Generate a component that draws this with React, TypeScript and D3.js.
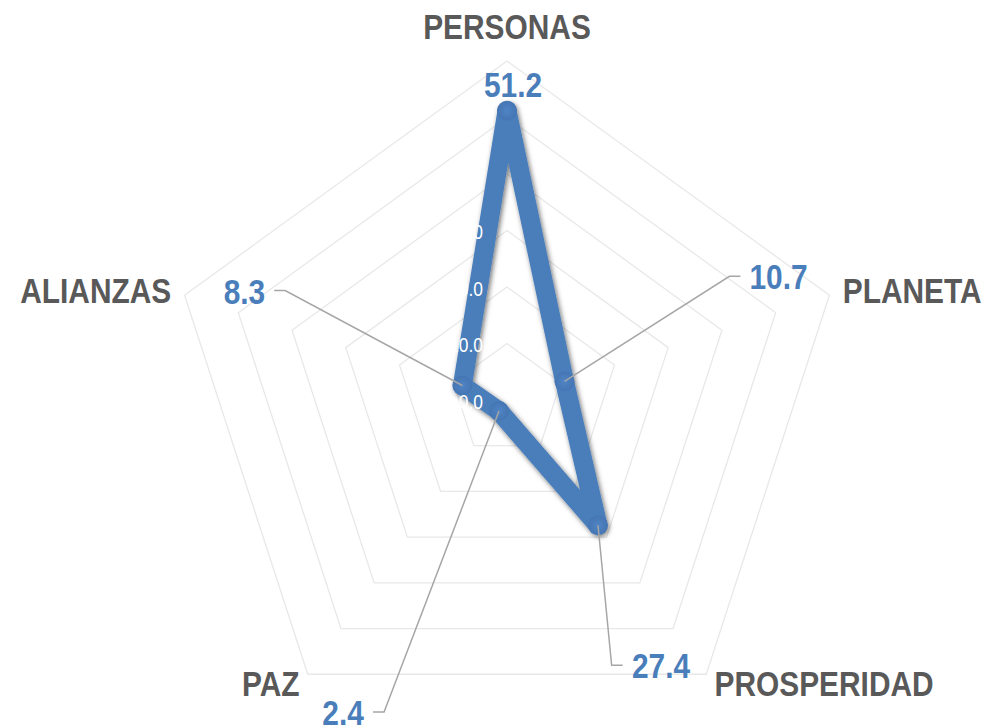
import React, { useEffect, useRef } from "react";
import * as d3 from "d3";

// chart data
const categories = ["PERSONAS", "PLANETA", "PROSPERIDAD", "PAZ", "ALIANZAS"];
const values = [51.2, 10.7, 27.4, 2.4, 8.3];
const tickValues = [0, 10, 20, 30, 40, 50, 60];
const axisMax = 60;

// where each data label was dragged to (text centre, relative to its point)
const labelOffsets = [
  { dx: 6, dy: -27, leader: false },
  { dx: 214, dy: -105, leader: true },
  { dx: 63, dy: 140, leader: true },
  { dx: -156, dy: 301, leader: true },
  { dx: -218, dy: -95, leader: true },
];

const W = 999;
const H = 728;
const BLUE = "#4a7ebb";
const FONT = "'Liberation Sans', Arial, sans-serif";
const NARROW = 0.83; // fake "Arial Narrow" by squeezing Liberation Sans

const App = () => {
  const svgRef = useRef<SVGSVGElement>(null);

  useEffect(() => {
    document.body.style.margin = "0";
    const svg = d3.select(svgRef.current);
    svg.selectAll("*").remove();

    const cx = 507;
    const cy = 400;
    const R = 339;

    const rScale = d3.scaleLinear().domain([0, axisMax]).range([0, R]);
    const angle = (i: number) => (i * 2 * Math.PI) / categories.length;
    const pt = (i: number, r: number): [number, number] => [
      cx + r * Math.sin(angle(i)),
      cy - r * Math.cos(angle(i)),
    ];

    // narrow text helper, returns the group
    const narrowText = (
      x: number,
      y: number,
      str: string,
      size: number,
      fill: string,
      anchor: string,
      bold: boolean
    ) => {
      const grp = svg.append("g").attr("transform", `translate(${x},${y}) scale(${NARROW},1)`);
      grp
        .append("text")
        .attr("text-anchor", anchor)
        .attr("font-family", FONT)
        .attr("font-weight", bold ? "bold" : "normal")
        .attr("font-size", size)
        .attr("fill", fill)
        .text(str);
      return grp;
    };

    // drop shadow for the series line
    const defs = svg.append("defs");
    const f = defs
      .append("filter")
      .attr("id", "shadow")
      .attr("x", "-20%")
      .attr("y", "-20%")
      .attr("width", "140%")
      .attr("height", "140%");
    f.append("feDropShadow")
      .attr("dx", 1.5)
      .attr("dy", 2)
      .attr("stdDeviation", 2.5)
      .attr("flood-color", "#000")
      .attr("flood-opacity", 0.55);

    const grad = defs.append("radialGradient").attr("id", "mk");
    grad.append("stop").attr("offset", "0%").attr("stop-color", "#4f84c4");
    grad.append("stop").attr("offset", "100%").attr("stop-color", "#4575b3");

    const g = svg.append("g").attr("transform", `translate(${cx},${cy})`);

    // grid rings
    const ring = d3
      .lineRadial<number>()
      .angle((d, i) => angle(i))
      .radius((d) => rScale(d))
      .curve(d3.curveLinearClosed);

    tickValues
      .filter((t) => t > 0)
      .forEach((t) => {
        g.append("path")
          .attr("d", ring(categories.map(() => t)))
          .attr("fill", "none")
          .attr("stroke", "#e8e8e8")
          .attr("stroke-width", 1.3);
      });

    // series
    g.append("path")
      .attr("d", ring(values))
      .attr("fill", "none")
      .attr("stroke", BLUE)
      .attr("stroke-width", 19)
      .attr("stroke-linejoin", "round")
      .attr("filter", "url(#shadow)");

    values.forEach((v, i) => {
      const [x, y] = pt(i, rScale(v));
      svg
        .append("circle")
        .attr("cx", x)
        .attr("cy", y)
        .attr("r", 10)
        .attr("fill", "url(#mk)");
    });

    // tick labels (white, only visible over the line)
    tickValues.forEach((t) => {
      narrowText(cx - 24, cy - rScale(t) + 8.5, t.toFixed(1), 21, "#ffffff", "end", false);
    });

    // leader lines + data labels
    const leaders = svg.append("g");
    values.forEach((v, i) => {
      const [x, y] = pt(i, rScale(v));
      const o = labelOffsets[i];
      const tx = x + o.dx;
      const ty = y + o.dy;
      const label = narrowText(tx, ty + 13, v.toFixed(1), 36, BLUE, "middle", true);

      if (o.leader) {
        const bb = (label.select("text").node() as SVGTextElement).getBBox();
        const half = (bb.width * NARROW) / 2;
        const right = o.dx > 0;
        const ex = right ? tx - half - 9 : tx + half + 9;
        const elbow = right ? ex - 11 : ex + 11;
        leaders
          .append("path")
          .attr("d", d3.line()([[x, y], [elbow, ty], [ex, ty]]))
          .attr("fill", "none")
          .attr("stroke", "#a6a6a6")
          .attr("stroke-width", 1.5);
      }
    });

    // category labels outside the outer ring
    categories.forEach((c, i) => {
      const [vx, vy] = pt(i, R);
      const s = Math.sin(angle(i));
      const co = Math.cos(angle(i));
      const anchor = Math.abs(s) < 0.1 ? "middle" : s > 0 ? "start" : "end";
      const dy = co > 0.9 ? -22 : co > 0 ? 8 : 22;
      narrowText(vx + s * 14, vy + dy, c, 36, "#595959", anchor, true);
    });
  }, []);

  return (
    <div style={{ width: W, height: H, background: "#fff" }}>
      <svg ref={svgRef} width={W} height={H} style={{ display: "block" }}></svg>
    </div>
  );
};

export default App;
